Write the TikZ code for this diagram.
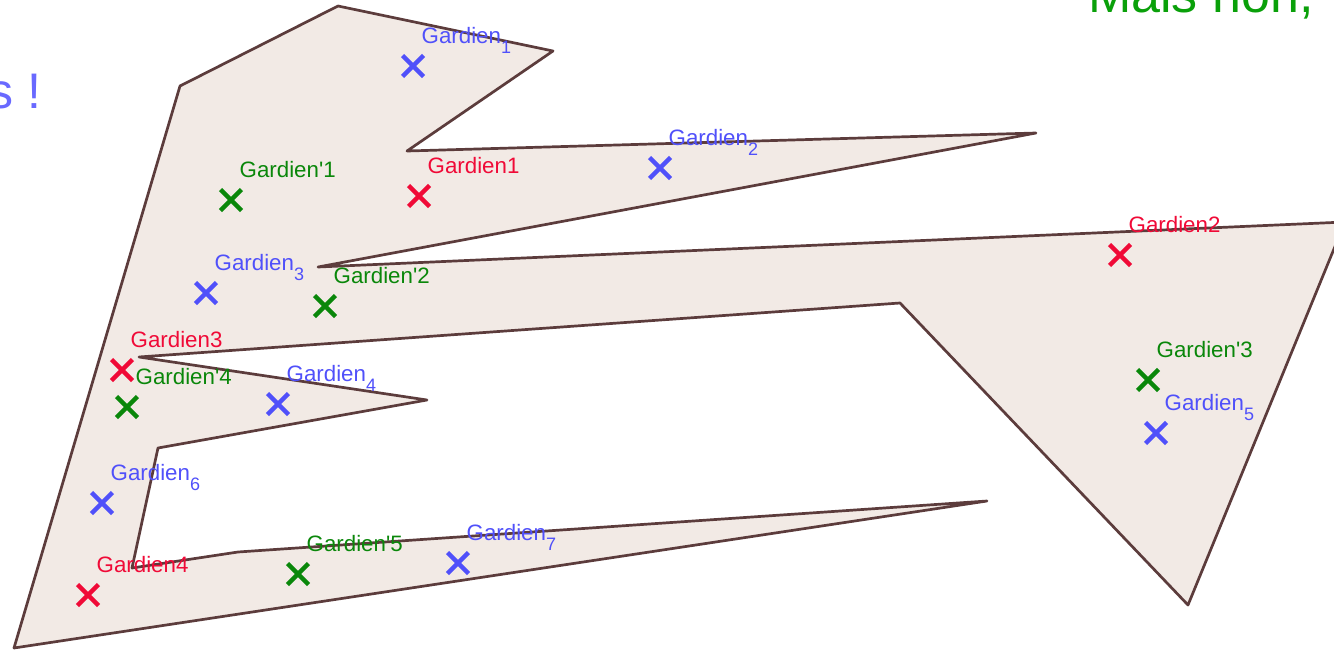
\documentclass[tikz,border=0pt]{standalone}
\usepackage{fontspec}
\setmainfont{Liberation Sans}
\usetikzlibrary{calc}
\definecolor{polyfill}{RGB}{242,234,229}
\definecolor{polyedge}{RGB}{92,60,60}
\definecolor{gblue}{RGB}{80,80,250}
\definecolor{gred}{RGB}{240,10,55}
\definecolor{ggreen}{RGB}{10,135,10}
\definecolor{titleblue}{RGB}{105,105,255}
\definecolor{titlegreen}{RGB}{10,160,10}
\newcommand\gsub[1]{\raisebox{-10pt}{\fontsize{18}{18}\selectfont #1}}
\tikzset{
  poly/.style={fill=polyfill, draw=polyedge, line width=2.7pt, line join=round},
  cross/.pic={\draw[line width=4.4pt] (-10.5,-10.5) -- (10.5,10.5) (-10.5,10.5) -- (10.5,-10.5);},
  lab/.style={anchor=base west, inner sep=0pt, font=\fontsize{22.3}{26}\selectfont},
  bigtext/.style={inner sep=0pt}
}
\begin{document}
\begin{tikzpicture}[x=1pt,y=-1pt]
\useasboundingbox (0,0) rectangle (1334,651);
\clip (0,0) rectangle (1334,651);
% polygon vertices
\coordinate (p1) at (338,6);
\coordinate (p2) at (553,51);
\coordinate (p3) at (407,151);
\coordinate (p4) at (1036,133);
\coordinate (p5) at (318,267);
\coordinate (p6) at (1345,222);
\coordinate (p7) at (1188,605);
\coordinate (p8) at (900,303);
\coordinate (p9) at (139,357);
\coordinate (p10) at (427,400);
\coordinate (p11) at (158,448);
\coordinate (p12) at (132,568);
\coordinate (p13) at (238,552);
\coordinate (p14) at (987,501);
\coordinate (p15) at (14,648);
\coordinate (p16) at (180,86);
\filldraw[poly] (p1) -- (p2) -- (p3) -- (p4) -- (p5) -- (p6) -- (p7) -- (p8)
  -- (p9) -- (p10) -- (p11) -- (p12) -- (p13) -- (p14) -- (p15) -- (p16) -- cycle;
% titles
\node[bigtext, anchor=base west, text=titlegreen, font=\fontsize{52}{60}\selectfont] (mais) at (1088,12) {Mais non,};
\node[bigtext, anchor=base east, text=titleblue, font=\fontsize{50}{60}\selectfont] (excl) at (41.5,108) {s !};
% blue guards
\coordinate (b1) at (413,66);
\coordinate (b2) at (660,168);
\coordinate (b3) at (206,293);
\coordinate (b4) at (278,404);
\coordinate (b5) at (1156,433);
\coordinate (b6) at (102,503);
\coordinate (b7) at (458,563);
\foreach \i in {1,...,7} {
  \pic[gblue] at (b\i) {cross};
  \node[lab, text=gblue] (lb\i) at ($(b\i)+(8.5,-22.5)$) {Gardien\gsub{\i}};
}
% red guards
\coordinate (r1) at (419,196);
\coordinate (r2) at (1120,255);
\coordinate (r3) at (122,370);
\coordinate (r4) at (88,595);
\foreach \i in {1,...,4} {
  \pic[gred] at (r\i) {cross};
  \node[lab, text=gred] (lr\i) at ($(r\i)+(8.5,-22.5)$) {Gardien\i};
}
% green guards
\coordinate (g1) at (231,200);
\coordinate (g2) at (325,306);
\coordinate (g3) at (1148,380);
\coordinate (g4) at (127,407);
\coordinate (g5) at (298,574);
\foreach \i in {1,...,5} {
  \pic[ggreen] at (g\i) {cross};
  \node[lab, text=ggreen] (lg\i) at ($(g\i)+(8.5,-22.5)$) {Gardien\textquotesingle\i};
}
\end{tikzpicture}
\end{document}
